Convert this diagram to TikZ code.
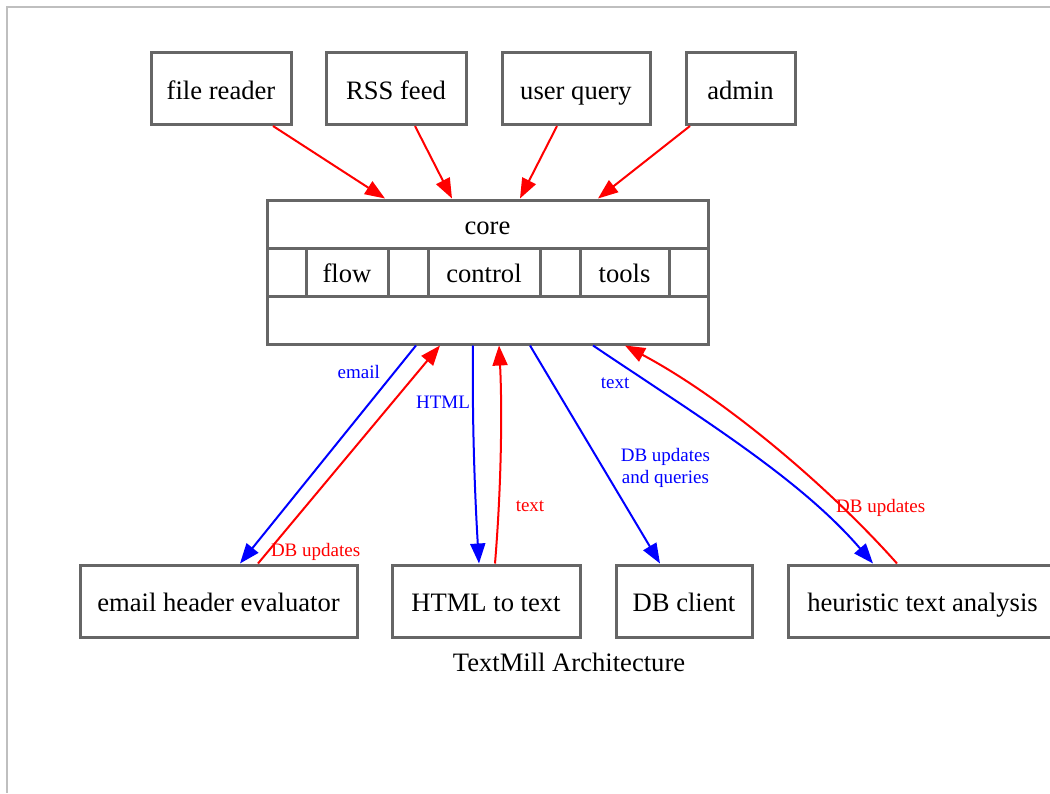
\documentclass[tikz,border=0pt]{standalone}
\usepackage{fontspec}
\setmainfont{Liberation Serif}
\usetikzlibrary{arrows.meta,calc}
\tikzstyle{component} =
  [ rectangle
  , draw=black!60
  , line width=1.5pt
  , minimum height=36pt
  , inner sep=0pt
  , text height=12pt
  , text depth=1.5pt
  , font=\fontsize{13.3}{16}\selectfont
  ]
\tikzstyle{field} =
  [ rectangle
  , draw=black!60
  , line width=1.5pt
  , minimum height=24pt
  , inner sep=0pt
  , text height=12pt
  , text depth=1.5pt
  , font=\fontsize{13.3}{16}\selectfont
  ]
\tikzstyle{request} =
  [ ->
  , color=red
  ]
\tikzstyle{reply} =
  [ ->
  , color=blue
  ]
\tikzstyle{edge_label} =
  [ inner sep=1pt
  , font=\fontsize{9.5}{11}\selectfont
  ]
\tikzstyle{caption} =
  [ inner sep=0pt
  , font=\fontsize{13.3}{16}\selectfont
  ]

\begin{document}
\begin{tikzpicture}[x=0.5pt,y=-0.5pt,line width=1pt,>={Triangle[length=10pt,width=7.5pt]}]
    \useasboundingbox (0,0) rectangle (1050,793);
    \draw[black!25, line width=0.7pt] (1050,7) -- (7,7) -- (7,793);

    % sources
    \node[component, minimum width=70pt]   (file_reader) at (221,88.5)   {file reader};
    \node[component, minimum width=70pt]   (rss_feed)    at (396,88.5)   {RSS feed};
    \node[component, minimum width=74pt]   (user_query)  at (576,88.5)   {user query};
    \node[component, minimum width=54.5pt] (admin)       at (740.5,88.5) {admin};

    % core record
    \node[field, minimum width=220.5pt] (core)        at (487.5,224) {core};
    \node[field, minimum width=19.5pt]  (core_a)      at (286.5,272) {};
    \node[field, minimum width=41pt]    (flow)        at (347,272)   {flow};
    \node[field, minimum width=20pt]    (core_b)      at (408,272)   {};
    \node[field, minimum width=56pt]    (control)     at (484,272)   {control};
    \node[field, minimum width=20pt]    (core_c)      at (560,272)   {};
    \node[field, minimum width=44.5pt]  (tools)       at (624.5,272) {tools};
    \node[field, minimum width=19.5pt]  (core_d)      at (688.5,272) {};
    \node[field, minimum width=220.5pt] (core_bottom) at (487.5,320) {};

    \draw[request] ($(file_reader.south)+(52,0)$)  -- ($(core.north)+(-102.5,0)$);
    \draw[request] ($(rss_feed.south)+(19,0)$)     -- ($(core.north)+(-35.5,0)$);
    \draw[request] ($(user_query.south)+(-19,0)$)  -- ($(core.north)+(32.5,0)$);
    \draw[request] ($(admin.south)+(-50.5,0)$)     -- ($(core.north)+(110.5,0)$);

    % workers
    \node[component, minimum width=138.5pt] (email_eval) at (218.5,601) {email header evaluator};
    \node[component, minimum width=94pt]    (html_text)  at (486,601)   {HTML to text};
    \node[component, minimum width=68pt]    (db_client)  at (684,601)   {DB client};
    \node[component, minimum width=134.5pt] (heuristic)  at (922.5,601) {heuristic text analysis};

    \draw[reply] ($(core_bottom.south)+(-71.5,0)$) -- node[edge_label, pos=0.12, left=6pt] {email} ($(email_eval.north)+(21.5,0)$);
    \draw[request] ($(email_eval.north)+(39.5,0)$) -- node[edge_label, pos=0.055, anchor=west] {DB updates} ($(core_bottom.south)+(-47.5,0)$);

    \draw[reply] ($(core_bottom.south)+(-14.5,0)$) .. controls ($(core_bottom.south)+(-15.5,76)$) and ($(html_text.north)+(-11,-65)$) .. node[edge_label, pos=0.25, left=0pt] {HTML} ($(html_text.north)+(-7,0)$);
    \draw[request] ($(html_text.north)+(9,0)$) .. controls ($(html_text.north)+(16,-85)$) and ($(core_bottom.south)+(14.5,56)$) .. node[edge_label, pos=0.23, right=7pt] {text} ($(core_bottom.south)+(11.5,0)$);

    \draw[reply] ($(core_bottom.south)+(42.5,0)$) -- node[edge_label, pos=0.56, right=7.5pt, align=center] {DB updates\\and queries} ($(db_client.north)+(-24,0)$);

    \draw[reply] ($(core_bottom.south)+(105.5,0)$) .. controls ($(core_bottom.south)+(212.5,72)$) and ($(heuristic.north)+(-122.5,-85)$) .. node[edge_label, pos=0.13, below left=1pt] {text} ($(heuristic.north)+(-49.5,0)$);
    \draw[request] ($(heuristic.north)+(-25.5,0)$) .. controls ($(heuristic.north)+(-87.5,-70)$) and ($(core_bottom.south)+(242.5,56)$) .. node[edge_label, pos=0.25, right=-5pt] {DB updates} ($(core_bottom.south)+(137.5,0)$);

    \node[caption] (title) at (569,662) {TextMill Architecture};
\end{tikzpicture}
\end{document}
